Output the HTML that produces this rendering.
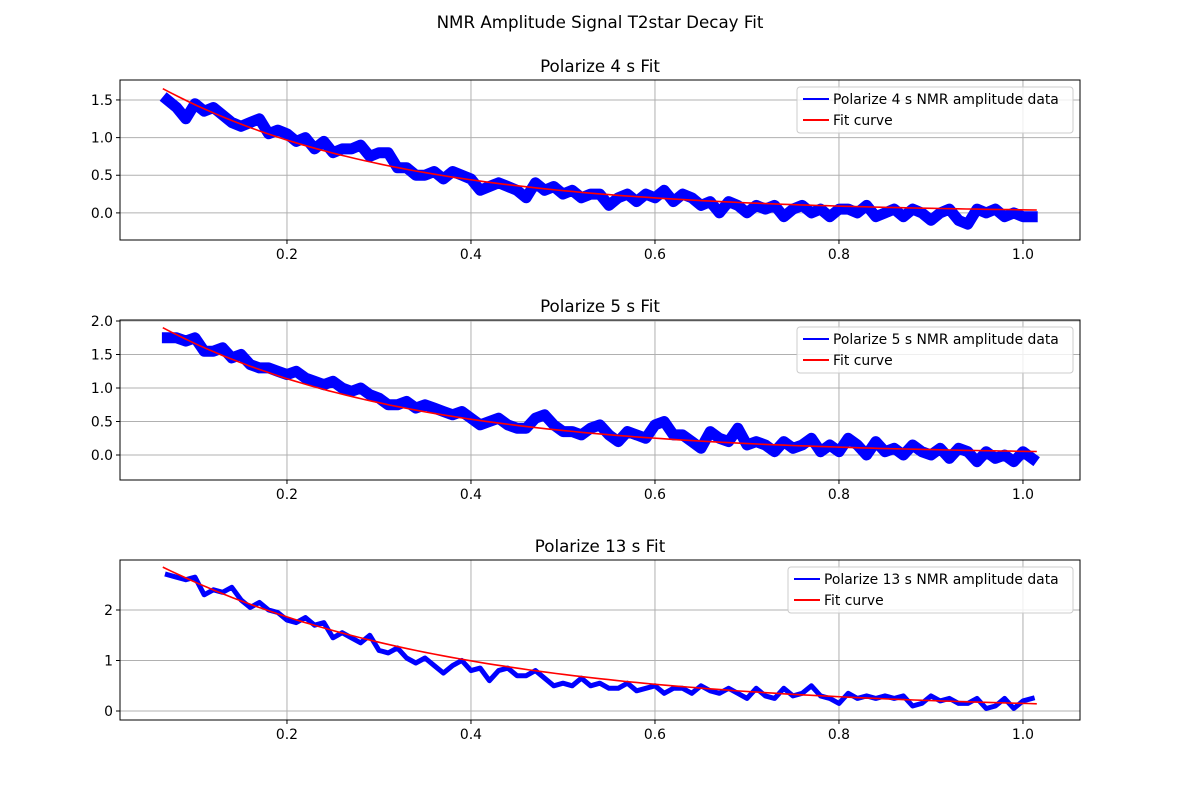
<!DOCTYPE html>
<html><head><meta charset="utf-8"><style>
body{margin:0;background:#fff;font-family:"Liberation Sans","DejaVu Sans",sans-serif}
svg text{font-family:"DejaVu Sans","Liberation Sans",sans-serif}
</style></head><body>
<svg id="fig" width="1200" height="800" xmlns="http://www.w3.org/2000/svg">
<rect width="1200" height="800" fill="#fff"/>
<text x="600" y="28" text-anchor="middle" font-size="16.7">NMR Amplitude Signal T2star Decay Fit</text>
</svg>
<script>
const xTicks=[0.2,0.4,0.6,0.8,1.0];
const xTickLabels=["0.2","0.4","0.6","0.8","1.0"];
const titles=["Polarize 4 s Fit","Polarize 5 s Fit","Polarize 13 s Fit"];
const legendLabels=["Polarize 4 s NMR amplitude data","Polarize 5 s NMR amplitude data","Polarize 13 s NMR amplitude data"];
const yTicks1=[0.0,0.5,1.0,1.5];
const yTickLabels1=["0.0","0.5","1.0","1.5"];
const yTicks2=[0.0,0.5,1.0,1.5,2.0];
const yTickLabels2=["0.0","0.5","1.0","1.5","2.0"];
const yTicks3=[0,1,2];
const yTickLabels3=["0","1","2"];
const data1=[1.5,1.4,1.25,1.45,1.35,1.4,1.3,1.2,1.15,1.2,1.25,1.05,1.1,1.05,0.95,1.0,0.85,0.95,0.8,0.85,0.85,0.9,0.75,0.8,0.8,0.6,0.6,0.5,0.5,0.55,0.45,0.55,0.5,0.45,0.3,0.35,0.4,0.35,0.3,0.2,0.4,0.3,0.35,0.25,0.3,0.2,0.25,0.25,0.1,0.2,0.25,0.15,0.25,0.2,0.3,0.15,0.25,0.2,0.1,0.15,0.0,0.15,0.1,0.0,0.1,0.05,0.1,-0.05,0.05,0.1,0.0,0.05,-0.05,0.05,0.05,0.0,0.1,-0.05,0.0,0.05,-0.05,0.05,0.0,-0.1,0.0,0.05,-0.1,-0.15,0.05,0.0,0.05,-0.05,0.0,-0.05,-0.05];
const data2=[1.75,1.75,1.7,1.75,1.55,1.55,1.6,1.45,1.5,1.35,1.3,1.3,1.25,1.2,1.25,1.15,1.1,1.05,1.1,1.0,0.95,1.0,0.9,0.85,0.75,0.75,0.8,0.7,0.75,0.7,0.65,0.6,0.65,0.55,0.45,0.5,0.55,0.45,0.4,0.4,0.55,0.6,0.45,0.35,0.35,0.3,0.4,0.45,0.3,0.2,0.35,0.3,0.25,0.45,0.5,0.3,0.3,0.2,0.1,0.35,0.25,0.2,0.4,0.15,0.2,0.15,0.05,0.2,0.1,0.15,0.25,0.05,0.15,0.05,0.25,0.15,0.0,0.2,0.05,0.1,0.0,0.15,0.05,0.0,0.1,-0.05,0.1,0.05,-0.1,0.05,-0.05,0.0,-0.1,0.05,-0.05];
const data3=[2.7,2.65,2.6,2.65,2.3,2.4,2.35,2.45,2.2,2.05,2.15,2.0,1.95,1.8,1.75,1.85,1.7,1.75,1.45,1.55,1.45,1.35,1.5,1.2,1.15,1.25,1.05,0.95,1.05,0.9,0.75,0.9,1.0,0.8,0.85,0.6,0.8,0.85,0.7,0.7,0.8,0.65,0.5,0.55,0.5,0.65,0.5,0.55,0.45,0.45,0.55,0.4,0.45,0.5,0.35,0.45,0.45,0.35,0.5,0.4,0.35,0.45,0.35,0.25,0.45,0.3,0.25,0.45,0.3,0.35,0.5,0.3,0.25,0.15,0.35,0.25,0.3,0.25,0.3,0.25,0.3,0.1,0.15,0.3,0.2,0.25,0.15,0.15,0.25,0.05,0.1,0.25,0.05,0.2,0.25];
const fitA=[1.65,1.9,2.85];
const fitT=[0.253,0.264,0.318];
const tStart=0.065, tEnd=1.015;
const xMin=0.0185, xMax=1.062;
const yLims=[[-0.36,1.765],[-0.373,2.015],[-0.178,2.99]];
const tops=[80,320,560];
const L=120,R=1080,H=160;
const svg=document.getElementById('fig');
const NS='http://www.w3.org/2000/svg';
function mk(tag,attrs,parent){const e=document.createElementNS(NS,tag);for(const k in attrs)e.setAttribute(k,attrs[k]);(parent||svg).appendChild(e);return e;}
const sets=[[data1,yTicks1,yTickLabels1,11],[data2,yTicks2,yTickLabels2,11],[data3,yTicks3,yTickLabels3,5]];
sets.forEach((s,p)=>{
  const [data,yt,ytl,sw]=s;const top=tops[p];const [y0,y1]=yLims[p];
  const X=v=>L+(v-xMin)/(xMax-xMin)*(R-L);
  const Y=v=>top+H-(v-y0)/(y1-y0)*H;
  const g=mk('g',{});
  
  
  const t=mk('text',{x:(L+R)/2,y:top-8,'text-anchor':'middle','font-size':'16.7'},g);t.textContent=titles[p];
  
  xTicks.forEach((v,i)=>{mk('line',{x1:X(v),x2:X(v),y1:top,y2:top+H,stroke:'#b0b0b0','stroke-width':1},g);
    mk('line',{x1:X(v),x2:X(v),y1:top+H,y2:top+H+4,stroke:'#000'},g);
    const tx=mk('text',{x:X(v),y:top+H+19,'text-anchor':'middle','font-size':'13.9'},g);tx.textContent=xTickLabels[i];
    });
  yt.forEach((v,i)=>{mk('line',{x1:L,x2:R,y1:Y(v),y2:Y(v),stroke:'#b0b0b0','stroke-width':1},g);
    mk('line',{x1:L-4,x2:L,y1:Y(v),y2:Y(v),stroke:'#000'},g);
    const ty=mk('text',{x:L-7,y:Y(v)+5,'text-anchor':'end','font-size':'13.9'},g);ty.textContent=ytl[i];
    });
  const n=data.length;
  const pts=data.map((v,i)=>X(0.07+i*0.94/(n-1)).toFixed(1)+','+Y(v).toFixed(1)).join(' ');
  const dl=mk('polyline',{points:pts,fill:'none',stroke:'#0000ff','stroke-width':sw,'stroke-linejoin':'round','stroke-linecap':'square'},g);
  
  const fp=[];for(let k=0;k<=100;k++){const tt=tStart+k*(tEnd-tStart)/100;fp.push(X(tt).toFixed(1)+','+Y(fitA[p]*Math.exp(-(tt-tStart)/fitT[p])).toFixed(1));}
  const fl=mk('polyline',{points:fp.join(' '),fill:'none',stroke:'#ff0000','stroke-width':1.6},g);
  
  mk('rect',{x:L,y:top,width:R-L,height:H,fill:'none',stroke:'#000','stroke-width':1},g);
  const lw=p==2?285:276, lx=1073-lw;
  const lg=mk('g',{},g);
  mk('rect',{x:lx,y:top+7,width:lw,height:46,rx:3,fill:'#fff','fill-opacity':0.8,stroke:'#ccc'},lg);
  mk('line',{x1:lx+6,x2:lx+32,y1:top+19,y2:top+19,stroke:'#0000ff','stroke-width':2},lg);
  mk('line',{x1:lx+6,x2:lx+32,y1:top+40,y2:top+40,stroke:'#ff0000','stroke-width':2},lg);
  const a=mk('text',{x:lx+36,y:top+24,'font-size':'13.9'},lg);a.textContent=legendLabels[p];
  const b=mk('text',{x:lx+36,y:top+45,'font-size':'13.9'},lg);b.textContent='Fit curve';
});
</script>
</body></html>
